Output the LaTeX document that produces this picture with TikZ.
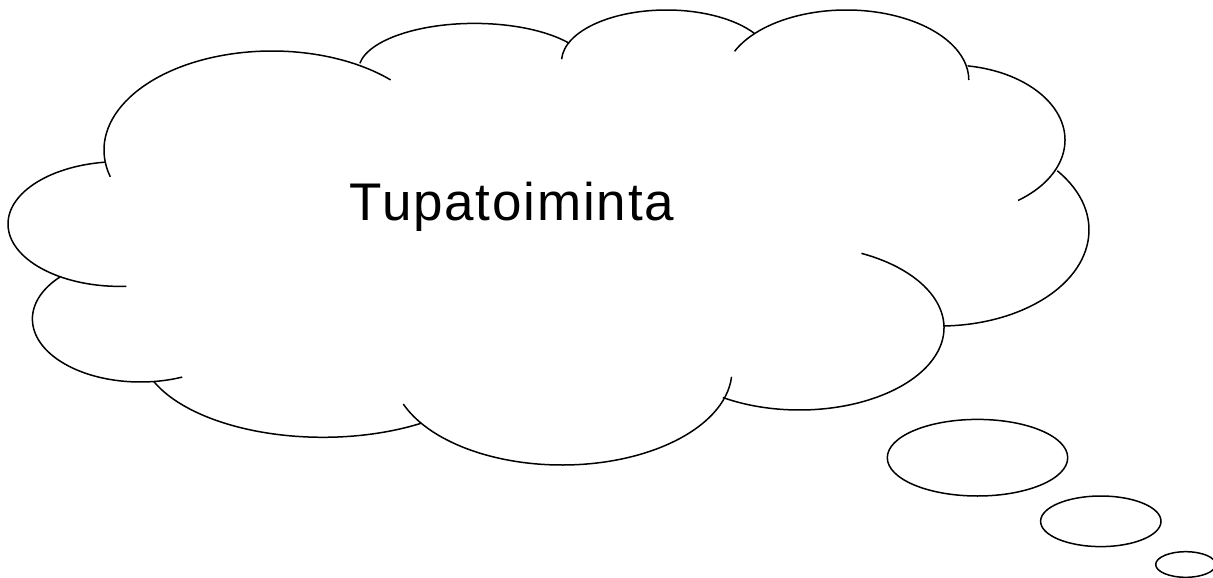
\documentclass[tikz,border=0pt]{standalone}
\usepackage{fontspec}
\setmainfont{Liberation Sans}
\newcommand{\cloudarc}[6]{\draw[cloudline] (#1,#2) ++(#5:#3 and #4) arc[start angle=#5, end angle=#6, x radius=#3, y radius=#4];}
\begin{document}
\begin{tikzpicture}[x=1pt,y=-1pt,
  cloudline/.style={line width=1.5pt, black},
  bubble/.style={line width=1.5pt, black},
  label/.style={font=\addfontfeature{LetterSpace=3.4}\fontsize{53}{60}\selectfont, inner sep=0pt, anchor=base}]
\useasboundingbox (0,0) rectangle (1213,578);
% cloud lobes
\cloudarc{120}{224}{112}{62.4}{86.7}{262.2}
\cloudarc{272}{150}{168}{99}{164.3}{314.9}
\cloudarc{474.5}{70.4}{116}{47}{188.7}{324.8}
\cloudarc{666.5}{61.6}{105}{51.6}{182.6}{326.7}
\cloudarc{846.3}{80}{122.5}{70}{204.2}{360}
\cloudarc{950}{140}{115}{75}{278.8}{413.7}
\cloudarc{940}{230}{149}{96}{321.9}{448.5}
\cloudarc{799.4}{327.7}{144.6}{82.3}{-64.6}{122}
\cloudarc{562}{370}{170}{95}{4.1}{159}
\cloudarc{323}{347.3}{183}{90}{57.6}{157.5}
\cloudarc{140.4}{319}{108}{63}{221.8}{67.2}
% thought bubbles
\draw[bubble] (977.5,457.7) ellipse [x radius=90.2, y radius=38.3];
\draw[bubble] (1100.8,521.3) ellipse [x radius=60.2, y radius=25.3];
\draw[bubble] (1185.7,564.5) ellipse [x radius=30, y radius=12.8];
% text
\node[label] (t) at (512,220) {Tupatoiminta};
\end{tikzpicture}
\end{document}
